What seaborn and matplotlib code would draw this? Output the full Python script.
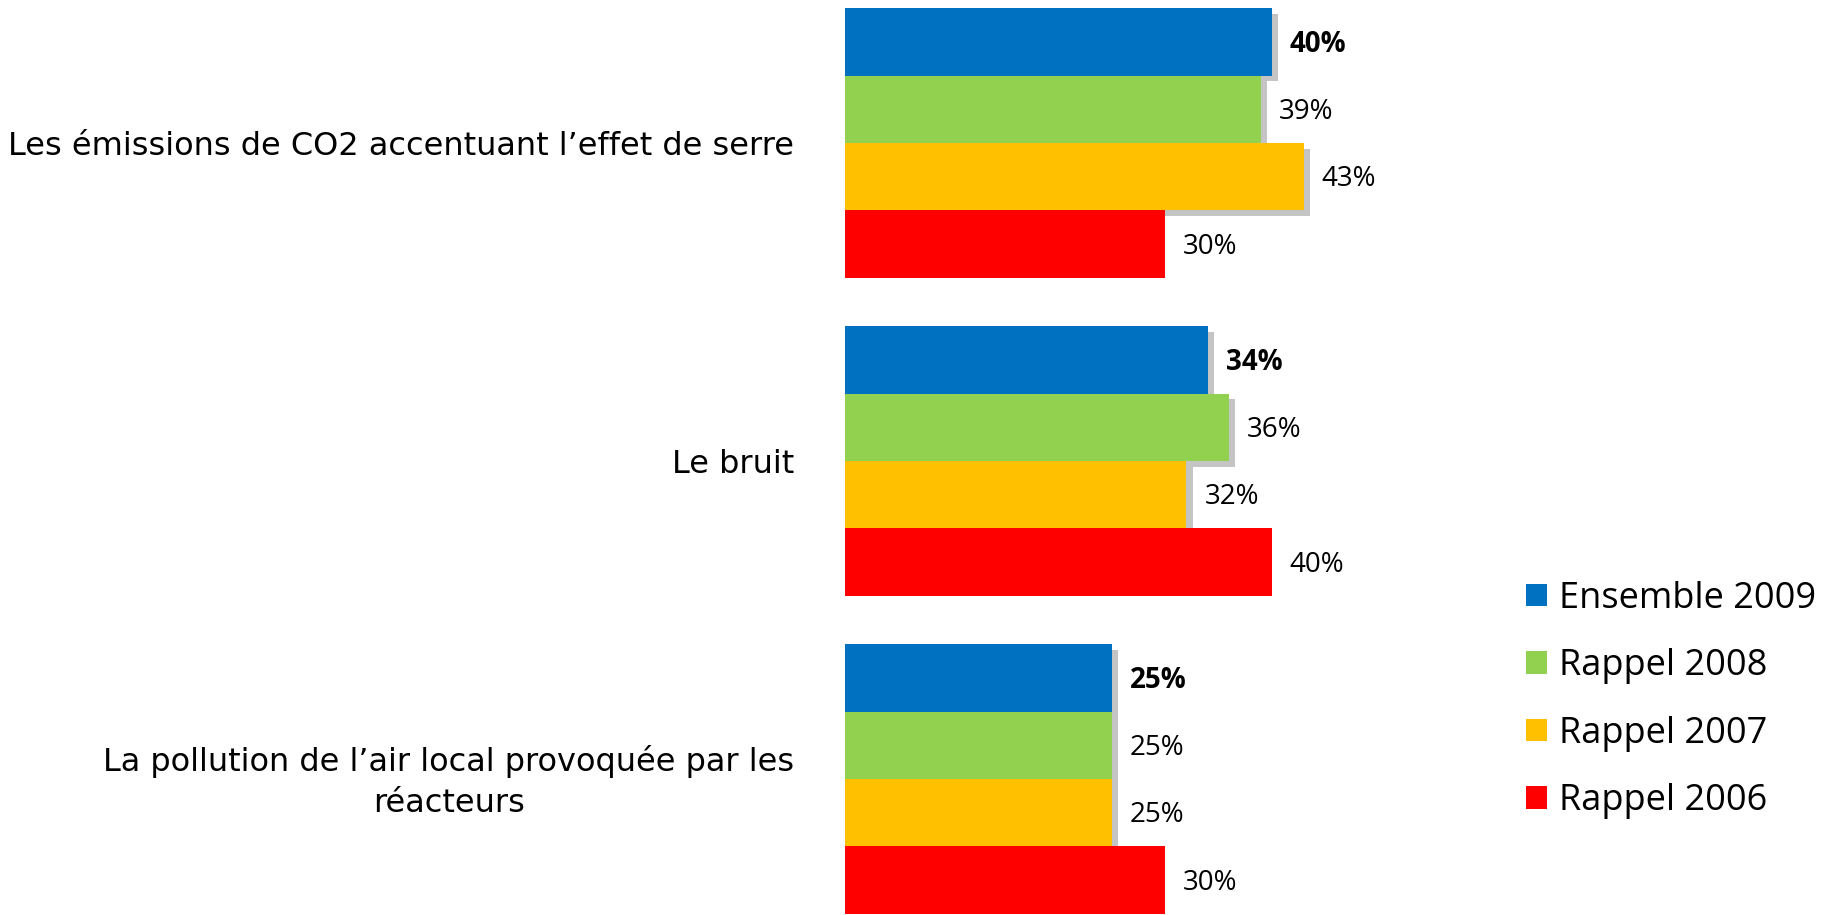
import matplotlib
matplotlib.use('Agg')
import matplotlib.pyplot as plt
import matplotlib.patheffects as pe
from matplotlib.patches import Patch
from matplotlib.transforms import ScaledTranslation
import seaborn as sns
import pandas as pd

categories = ['Les émissions de CO2 accentuant l’effet de serre',
              'Le bruit',
              'La pollution de l’air local provoquée par les\nréacteurs']
series = ['Ensemble 2009', 'Rappel 2008', 'Rappel 2007', 'Rappel 2006']
ensemble_2009 = [40, 34, 25]
rappel_2008 = [39, 36, 25]
rappel_2007 = [43, 32, 25]
rappel_2006 = [30, 40, 30]
colors = ['#0070C0', '#92D050', '#FFC000', '#FF0000']

rows = []
for name, vals in zip(series, [ensemble_2009, rappel_2008, rappel_2007, rappel_2006]):
    for cat, v in zip(categories, vals):
        rows.append({'item': cat, 'series': name, 'value': v})
df = pd.DataFrame(rows)

sns.set_style('white')
plt.rcParams['font.family'] = ['Open Sans', 'DejaVu Sans']
plt.rcParams['text.color'] = 'black'
plt.rcParams['ytick.color'] = 'black'

W, H = 1826, 915
fig = plt.figure(figsize=(W / 100, H / 100), dpi=100)
ax_left, ax_right = 845, 1500
ax = fig.add_axes([ax_left / W, 0, (ax_right - ax_left) / W, 1])

sns.barplot(data=df, y='item', x='value', hue='series', orient='h',
            palette=colors, hue_order=series, order=categories,
            width=0.846, gap=0, linewidth=0, saturation=1,
            legend=False, ax=ax)

px_per_pct = 10.67
ax.set_xlim(0, (ax_right - ax_left) / px_per_pct)
pitch = 318
ax.set_ylim(2 + (H - 779) / pitch, -143 / pitch)

# grey drop shadow as in the original slide (not on the last series)
shadow = [pe.SimplePatchShadow(offset=(4.5, -4), shadow_rgbFace='#c4c4c4', alpha=1), pe.Normal()]
for i, cont in enumerate(ax.containers):
    for bar in cont:
        if i < 3:
            bar.set_path_effects(shadow)
        w = bar.get_width()
        yc = bar.get_y() + bar.get_height() / 2
        ax.annotate(f'{w:.0f}%', (w, yc), xytext=(13, -2), textcoords='offset points',
                    va='center', ha='left', fontsize=20,
                    fontweight='bold' if i == 0 else 'normal', color='black')

for s in ax.spines.values():
    s.set_visible(False)
ax.set_xticks([])
ax.set_xlabel('')
ax.set_ylabel('')
ax.tick_params(left=False, pad=33)
labels = ax.get_yticklabels()
for lab in labels:
    lab.set_fontfamily(['DejaVu Sans'])
    lab.set_fontsize(23)
    lab.set_color('black')
    lab.set_multialignment('center')
    lab.set_linespacing(1.4)
labels[-1].set_transform(labels[-1].get_transform() + ScaledTranslation(0, 0.05, fig.dpi_scale_trans))

handles = [Patch(facecolor=c, edgecolor='none') for c in colors]
fig.legend(handles, series, loc='upper left', bbox_to_anchor=(1526 / W, 1 - 581 / H),
           frameon=False, fontsize=26, handlelength=0.58, handleheight=0.58,
           handletextpad=0.34, labelspacing=0.87, borderpad=0, borderaxespad=0)

fig.savefig('out.png', dpi=100)
